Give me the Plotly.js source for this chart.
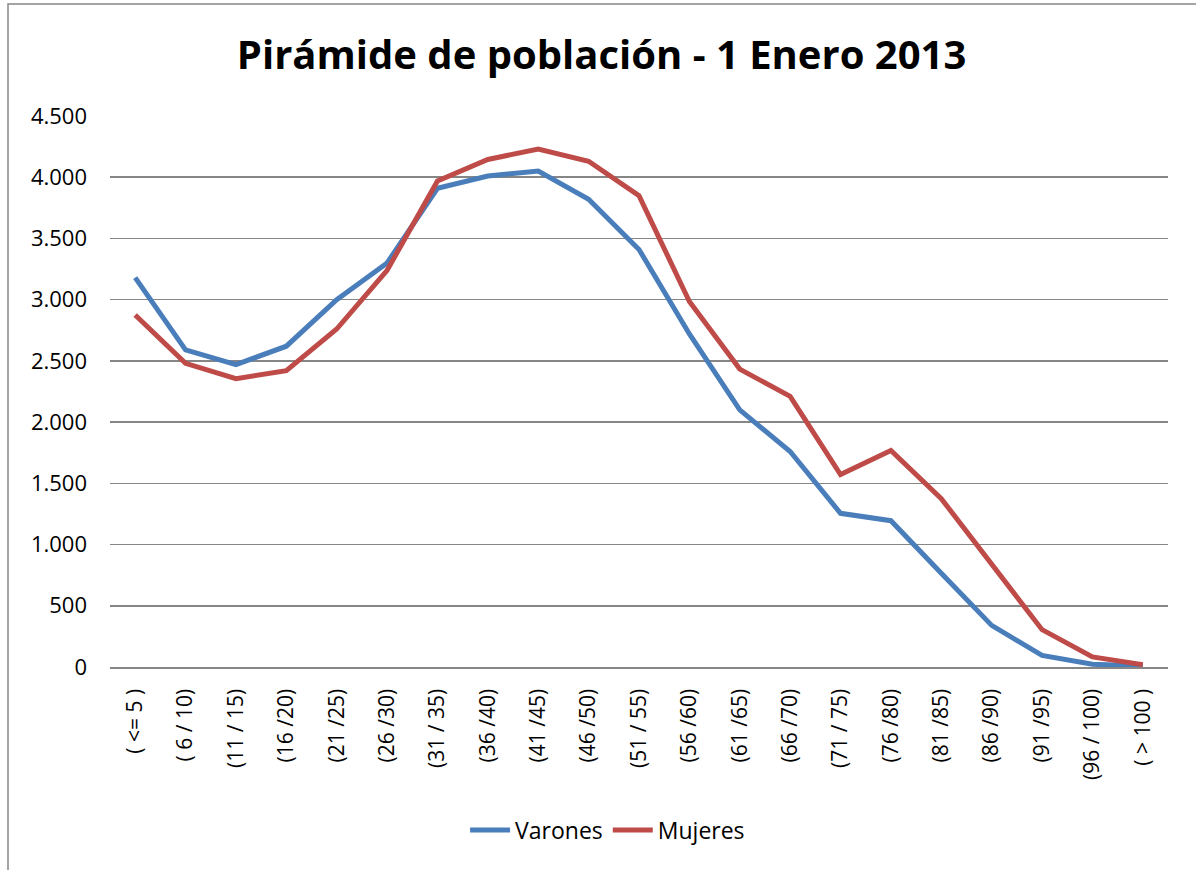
<!DOCTYPE html>
<html>
<head>
<meta charset="utf-8">
<script src="https://cdn.plot.ly/plotly-3.0.1.min.js"></script>
<style>
  html, body { margin: 0; padding: 0; background: #ffffff; }
  #chart { width: 1196px; height: 870px; }
</style>
</head>
<body>
<div id="chart"></div>
<script>
const categories = ["( <= 5 )", "( 6 / 10)", "(11 / 15)", "(16 /20)", "(21 /25)", "(26 /30)", "(31 / 35)", "(36 /40)", "(41 /45)", "(46 /50)", "(51 / 55)", "(56 /60)", "(61 /65)", "(66 /70)", "(71 / 75)", "(76 /80)", "(81 /85)", "(86 /90)", "(91 /95)", "(96 / 100)", "( > 100 )"];
const varones = [3180, 2590, 2470, 2620, 3000, 3300, 3910, 4010, 4050, 3820, 3410, 2720, 2100, 1760, 1255, 1195, 765, 340, 95, 22, 8];
const mujeres = [2875, 2480, 2355, 2420, 2760, 3240, 3970, 4145, 4230, 4130, 3850, 2985, 2433, 2210, 1572, 1768, 1375, 845, 305, 82, 19];
const yTicks = [0, 500, 1000, 1500, 2000, 2500, 3000, 3500, 4000, 4500];

const FONT = "Open Sans, Noto Sans, sans-serif";

const traces = [
  { x: categories, y: varones, name: "Varones", type: "scatter", mode: "lines",
    line: { color: "#4A7EBB", width: 5 } },
  { x: categories, y: mujeres, name: "Mujeres", type: "scatter", mode: "lines",
    line: { color: "#BE4B48", width: 5 } }
];

const layout = {
  width: 1196, height: 870,
  separators: ",.",
  paper_bgcolor: "#ffffff", plot_bgcolor: "#ffffff",
  margin: { l: 110, r: 28, t: 116, b: 203 },
  font: { family: FONT, color: "#000000" },
  title: { text: "<b>Pirámide de población - 1 Enero 2013</b>",
    font: { family: FONT, size: 40, color: "#000000" },
    xref: "container", x: 0.503, xanchor: "center",
    yref: "container", y: 1 - 55/870, yanchor: "middle" },
  xaxis: {
    type: "category", range: [-0.5, categories.length - 0.5],
    tickangle: -90, tickfont: { family: FONT, size: 21, color: "#000000" },
    ticklabelstandoff: 12,
    showgrid: false, showline: true, linecolor: "#868686", linewidth: 1.5,
    ticks: "", fixedrange: true
  },
  yaxis: {
    range: [0, 4500], tickvals: yTicks, tickformat: ",d",
    tickfont: { family: FONT, size: 22, color: "#000000" },
    ticklabelstandoff: 22,
    showgrid: true, gridcolor: "#868686", gridwidth: 1.5,
    zeroline: false, showline: false, ticks: "", ticklen: 0,
    fixedrange: true
  },
  showlegend: true,
  legend: {
    orientation: "h", xref: "container", yref: "container",
    x: 0.508, xanchor: "center", y: 1 - 830/870, yanchor: "middle",
    font: { family: FONT, size: 23, color: "#000000" },
    bgcolor: "rgba(0,0,0,0)", itemwidth: 40
  },
  shapes: [
    { type: "rect", xref: "paper", yref: "paper",
      x0: (8 - 110)/1058, x1: (1250 - 110)/1058,
      y0: (667 - 920)/551, y1: (667 - 4)/551,
      line: { color: "#868686", width: 1.5 }, fillcolor: "rgba(0,0,0,0)", layer: "below" }
  ]
};

Plotly.newPlot("chart", traces, layout, { displayModeBar: false, staticPlot: true });
</script>
</body>
</html>
